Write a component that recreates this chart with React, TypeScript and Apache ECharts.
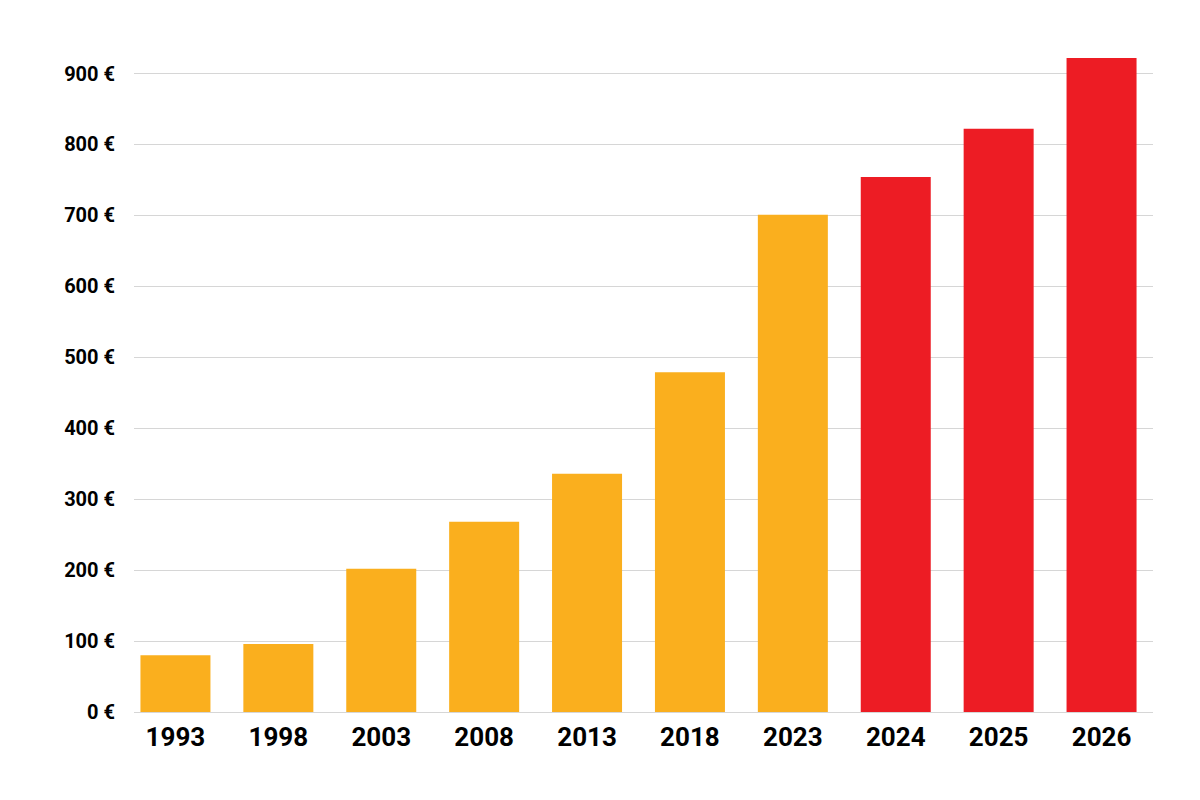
import React, { useEffect, useRef } from "react";
import * as echarts from "echarts";

const years = ["1993", "1998", "2003", "2008", "2013", "2018", "2023", "2024", "2025", "2026"];
const values = [80, 96, 202, 268, 336, 479, 701, 754, 822, 922];
const barColors = ["#FAAF1E", "#FAAF1E", "#FAAF1E", "#FAAF1E", "#FAAF1E", "#FAAF1E", "#FAAF1E", "#ED1C24", "#ED1C24", "#ED1C24"];
const yMax = 900;
const yStep = 100;

export default function App() {
  const ref = useRef<HTMLDivElement>(null);
  useEffect(() => {
    document.body.style.margin = "0";
    const chart = echarts.init(ref.current!, null, { renderer: "svg" });
    chart.setOption({
      animation: false,
      backgroundColor: "#ffffff",
      textStyle: { fontFamily: "Roboto" },
      grid: [
        { left: 124, right: 47, top: 73.5, bottom: 88 },
        { left: 134, right: 47, top: 73.5, bottom: 88 },
      ],
      xAxis: [
        {
          type: "category",
          gridIndex: 0,
          data: years,
          axisLine: { show: false },
          axisTick: { show: false },
          axisLabel: { color: "#000", fontSize: 26, fontWeight: "bold", fontFamily: "Roboto", margin: 12 },
        },
        { type: "value", gridIndex: 1, min: 0, max: 1, show: false },
      ],
      yAxis: [
        { type: "value", gridIndex: 0, min: 0, max: yMax, show: false },
        {
          type: "value",
          gridIndex: 1,
          min: 0,
          max: yMax,
          interval: yStep,
          axisLine: { show: false },
          axisTick: { show: false },
          splitLine: { lineStyle: { color: "#D6D6D6", width: 1 } },
          axisLabel: {
            color: "#000",
            fontSize: 20,
            fontWeight: "bold",
            fontFamily: "Roboto",
            margin: 19,
            formatter: (v: number) => `${v} €`,
          },
        },
      ],
      series: [
        {
          type: "bar",
          xAxisIndex: 0,
          yAxisIndex: 0,
          barWidth: 70,
          clip: false,
          z: 3,
          data: values.map((v, i) => ({ value: v, itemStyle: { color: barColors[i] } })),
        },
        { type: "line", xAxisIndex: 1, yAxisIndex: 1, data: [] },
      ],
    });
    return () => chart.dispose();
  }, []);
  return <div ref={ref} style={{ width: 1200, height: 800 }} />;
}
